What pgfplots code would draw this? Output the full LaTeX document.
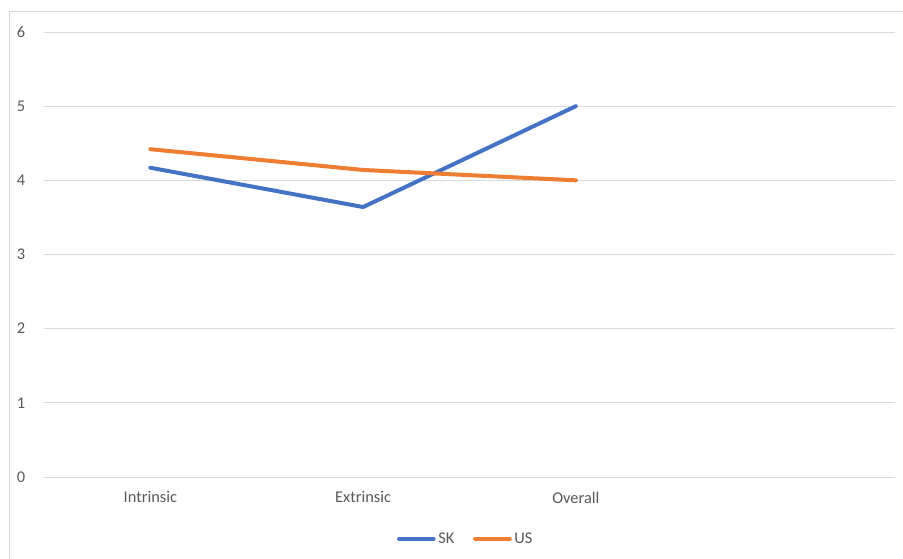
\documentclass[border=0pt]{standalone}
\usepackage{pgfplots}
\pgfplotsset{compat=1.18}
\usepackage{fontspec}
\setmainfont{Carlito}
\definecolor{skblue}{HTML}{4472C4}
\definecolor{usorange}{HTML}{ED7D31}
\definecolor{gridgray}{HTML}{D9D9D9}
\definecolor{txtgray}{HTML}{595959}
\begin{document}
\begin{tikzpicture}[x=0.75pt,y=0.75pt]
\path[use as bounding box] (0,0) rectangle (903,558);
\draw[gridgray, line width=0.75pt] (9,-5) -- (9,546) -- (910,546);
\begin{axis}[
  at={(44*0.75pt,81*0.75pt)}, anchor=south west,
  scale only axis,
  width=851*0.75pt, height=445*0.75pt,
  xmin=-0.5, xmax=3.5, ymin=0, ymax=6,
  xtick={0,1,2}, xticklabels={Intrinsic,Extrinsic,Overall},
  ytick={0,1,2,3,4,5,6},
  axis line style={draw=none},
  major tick length=0pt,
  ymajorgrids, grid style={gridgray, line width=0.75pt},
  tick label style={font=\fontsize{12.3pt}{14pt}\selectfont, text=txtgray},
  /pgf/number format/assume math mode=true,
  yticklabel style={xshift=-10.5pt},
  xticklabel style={yshift=-7.5pt},
  legend columns=2,
  legend style={at={(axis description cs:0.496,-0.139)}, anchor=center, draw=none, fill=none,
    font=\fontsize{12.3pt}{14pt}\selectfont, text=txtgray,
    /tikz/every even column/.append style={column sep=12pt}},
  legend image code/.code={\draw[#1, line width=3pt, line cap=round] (0,0) -- (26pt,0);},
]
\addplot[skblue, line width=3pt, line cap=round, line join=round] coordinates {(0,4.17) (1,3.64) (2,5.0)};
\addlegendentry{SK}
\addplot[usorange, line width=3pt, line cap=round, line join=round] coordinates {(0,4.42) (1,4.14) (2,4.0)};
\addlegendentry{US}
\end{axis}
\end{tikzpicture}
\end{document}
